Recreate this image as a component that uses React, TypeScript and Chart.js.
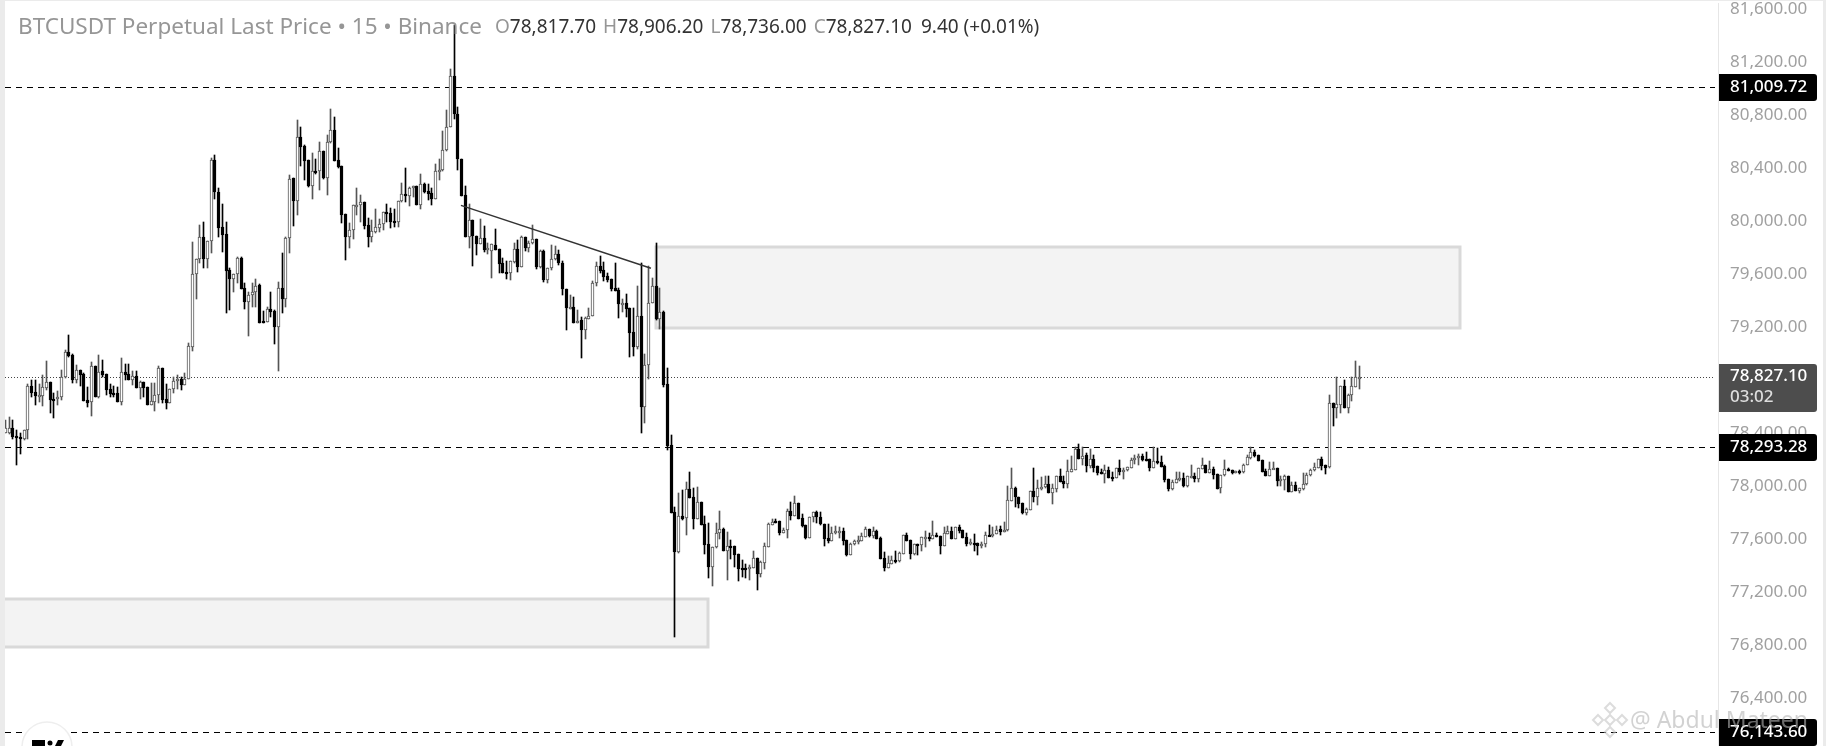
import React, { useEffect, useRef } from "react";
import { Chart, registerables } from "chart.js";

Chart.register(...registerables);

// Each row: [open, high, low, close]
const candlesBase: number[][] = [
  [78398,78499,78398,78436],[78398,78519,78393,78436],[78436,78499,78358,78373],[78378,78424,78159,78366],[78371,78403,78242,78366],
  [78356,78424,78348,78424],[78424,78771,78353,78755],[78755,78801,78675,78705],[78708,78801,78612,78683],[78683,78768,78637,78688],
  [78683,78836,78605,78745],[78738,78944,78725,78786],[78786,78786,78554,78652],[78657,78700,78517,78652],[78655,78718,78612,78670],
  [78670,78876,78650,78826],[78821,79027,78818,79010],[79010,79140,78977,78982],[78989,78997,78781,78801],[78803,78914,78781,78874],
  [78874,78876,78755,78838],[78849,78856,78645,78645],[78650,78745,78600,78627],[78632,78937,78529,78906],[78906,78906,78675,78675],
  [78675,78989,78667,78864],[78866,78952,78826,78836],[78846,78846,78688,78725],[78730,78771,78675,78695],[78703,78755,78675,78698],
  [78700,78750,78637,78637],[78637,78967,78610,78859],[78861,78921,78801,78841],[78846,78921,78801,78801],[78803,78866,78763,78828],
  [78828,78871,78743,78743],[78743,78796,78657,78786],[78788,78788,78672,78743],[78745,78750,78615,78615],[78615,78776,78615,78640],
  [78637,78781,78569,78685],[78685,78906,78625,78891],[78891,78891,78625,78652],[78655,78768,78582,78630],[78630,78730,78630,78730],
  [78730,78826,78700,78796],[78798,78836,78730,78806],[78806,78826,78725,78766],[78766,78851,78763,78811],[78811,79077,78806,79057],
];

const candlesFirstPeaks: number[][] = [
  [79053,79843,79023,79601],[79601,79712,79413,79712],[79712,79971,79682,79880],[79880,79994,79649,79717],[79717,79848,79644,79848],
  [79848,80474,79762,80461],[80461,80499,80170,80217],[80217,80248,79883,79951],[79956,80129,79770,79898],[79900,79994,79304,79626],
  [79631,79646,79329,79566],[79566,79599,79468,79599],[79599,79727,79531,79719],[79719,79732,79490,79490],[79493,79531,79337,79392],
  [79392,79468,79136,79440],[79440,79531,79350,79463],[79463,79563,79355,79511],[79516,79523,79234,79234],[79244,79319,79234,79234],
  [79242,79352,79242,79335],[79335,79465,79274,79317],[79322,79329,79073,79204],[79204,79541,78872,79493],[79493,79757,79309,79415],
  [79415,79878,79350,79870],[79870,80351,79757,80320],[80323,80323,79963,80154],[80154,80763,80046,80632],[80632,80708,80416,80562],
  [80567,80574,80310,80456],[80459,80459,80255,80265],[80268,80512,80170,80376],[80376,80466,80356,80371],[80376,80600,80235,80527],
  [80527,80527,80320,80325],[80328,80652,80197,80595],[80595,80844,80587,80688],[80688,80783,80454,80454],[80459,80549,80398,80411],
  [80416,80416,79983,80046],[80051,80051,79707,79883],[79883,79983,79800,79931],[79931,80119,79865,80119],[80116,80248,80046,80119],
  [80119,80197,79996,80144],[80144,80144,79938,79963],[79968,80021,79807,79878],[79878,80009,79845,79923],[79918,80092,79913,79956],
  [79951,80016,79921,79976],
];

const candlesTopAndSlide: number[][] = [
  [79976,80069,79933,80069],[80069,80130,79991,80064],[80062,80097,79946,79996],[80001,80089,79954,79996],[79996,80150,79954,80150],
  [80150,80286,80147,80205],[80205,80401,80147,80200],[80193,80255,80117,80250],[80248,80268,80185,80263],[80263,80265,80120,80122],
  [80125,80356,80094,80278],[80281,80286,80215,80223],[80225,80281,80160,80208],[80213,80248,80120,80170],[80170,80432,80167,80376],
  [80381,80467,80311,80386],[80384,80680,80381,80535],[80535,80839,80532,80708],[80708,81146,80708,81095],[81095,81480,80771,80806],
  [80806,80859,80386,80467],[80469,80469,80193,80193],[80198,80265,79883,79883],[79883,80130,79795,80009],[80009,80009,79662,79888],
  [79888,79888,79745,79830],[79830,80016,79828,79871],[79871,79964,79765,79783],[79788,79833,79752,79795],[79778,79828,79569,79825],
  [79820,79939,79783,79783],[79788,79788,79612,79677],[79682,79720,79607,79607],[79617,79702,79561,79607],[79607,79702,79556,79700],
  [79695,79833,79682,79788],[79788,79858,79619,79657],[79657,79888,79657,79878],[79878,79878,79778,79800],[79800,79853,79765,79833],
  [79833,79969,79828,79863],[79866,79866,79637,79657],[79654,79783,79644,79773],[79773,79783,79544,79556],[79556,79644,79531,79644],
  [79644,79820,79632,79712],[79712,79813,79707,79750],[79750,79783,79669,79682],
];

const candlesCrash: number[][] = [
  [79681,79699,79445,79485],[79485,79485,79178,79347],[79344,79442,79334,79352],[79349,79425,79233,79233],[79233,79329,79233,79248],
  [79251,79279,78967,79181],[79181,79274,79110,79266],[79264,79347,79264,79286],[79286,79545,79284,79530],[79530,79691,79513,79658],
  [79658,79736,79611,79623],[79628,79694,79548,79581],[79586,79611,79543,79558],[79561,79561,79473,79488],[79493,79681,79473,79475],
  [79478,79493,79271,79377],[79374,79410,79314,79382],[79380,79447,79279,79339],[79342,79342,78977,79158],[79161,79342,78982,79053],
  [79053,79510,79035,79281],[79281,79681,78404,78600],[78600,78997,78479,78912],[78912,79664,78811,79380],[79380,79568,79380,79510],
  [79510,79837,79254,79264],[79264,79493,79186,79312],[79314,79324,78751,78763],[78768,78889,78273,78303],[78308,78386,77800,77800],
  [77803,77841,76864,77506],[77506,77946,77493,77773],[77773,77971,77745,77755],[77757,78034,77632,77976],[77979,78104,77913,77913],
];

const candlesBottoming: number[][] = [
  [77916,77984,77677,77755],[77755,77991,77755,77878],[77878,77878,77709,77709],[77714,77775,77488,77559],[77564,77719,77310,77393],
  [77393,77538,77247,77538],[77538,77725,77531,77644],[77644,77813,77599,77674],[77677,77682,77513,77513],[77513,77657,77292,77546],
  [77548,77594,77450,77543],[77548,77548,77388,77483],[77486,77488,77287,77378],[77383,77443,77317,77378],[77383,77413,77305,77378],
  [77378,77405,77292,77388],[77383,77511,77380,77455],[77455,77455,77217,77340],[77340,77435,77317,77428],[77423,77569,77375,77548],
  [77543,77719,77538,77714],[77709,77750,77707,77730],[77735,77750,77719,77727],[77735,77735,77631,77649],[77649,77687,77649,77667],
  [77667,77830,77609,77810],[77813,77878,77745,77777],[77777,77926,77775,77870],[77873,77873,77750,77755],[77760,77787,77694,77702],
  [77707,77707,77601,77609],[77609,77765,77606,77765],[77765,77805,77732,77805],[77805,77813,77725,77765],[77767,77802,77707,77712],
  [77714,77714,77551,77601],[77606,77714,77569,77586],[77589,77689,77586,77644],[77644,77702,77639,77662],[77657,77694,77606,77664],
  [77662,77687,77556,77589],[77594,77594,77473,77481],[77483,77569,77481,77561],[77561,77594,77556,77586],[77586,77624,77564,77591],
  [77589,77644,77589,77621],[77619,77694,77614,77674],[77674,77674,77614,77624],[77624,77694,77606,77662],[77662,77669,77599,77604],
  [77609,77614,77448,77453],[77455,77506,77362,77385],[77385,77473,77380,77418],[77415,77473,77413,77440],[77440,77511,77418,77435],
  [77438,77506,77430,77493],[77488,77631,77488,77629],[77629,77644,77586,77589],[77591,77591,77450,77488],[77488,77561,77481,77561],
  [77561,77561,77481,77553],[77553,77619,77508,77614],[77611,77659,77543,77616],[77614,77644,77589,77604],[77604,77735,77604,77629],
  [77629,77649,77619,77619],[77621,77621,77488,77551],[77551,77689,77551,77644],[77642,77699,77639,77662],[77662,77694,77601,77601],
  [77601,77694,77599,77689],[77689,77707,77649,77662],[77667,77669,77609,77609],[77614,77649,77551,77566],[77574,77599,77556,77579],
  [77574,77639,77508,77569],[77571,77571,77483,77551],[77556,77581,77531,77564],[77561,77652,77543,77629],[77631,77704,77626,77626],
  [77629,77689,77619,77639],[77637,77702,77637,77672],[77674,77699,77631,77654],[77654,77732,77652,77672],
];

const candlesRecovery: number[][] = [
  [77669,78001,77664,77893],[77891,78135,77891,77984],[77984,77991,77840,77916],[77916,77921,77833,77868],[77870,77870,77787,77800],
  [77800,77833,77782,77825],[77820,77963,77820,77963],[77963,78135,77883,77921],[77921,78047,77858,77984],[77984,78072,77971,77996],
  [77991,78077,77989,78014],[78014,78077,77951,77951],[77951,78017,77868,77984],[77981,78077,77959,78077],[78077,78127,78034,78034],
  [78039,78077,77984,78019],[78019,78198,77989,78112],[78110,78228,78107,78127],[78125,78293,78125,78281],[78281,78318,78208,78208],
  [78208,78293,78160,78230],[78235,78248,78110,78152],[78152,78278,78140,78205],[78205,78235,78110,78137],[78150,78150,78084,78102],
  [78105,78127,78089,78092],[78094,78157,78027,78122],[78122,78142,78064,78064],[78069,78110,78037,78062],[78064,78135,78059,78135],
  [78135,78198,78084,78107],[78115,78135,78057,78122],[78120,78147,78117,78142],[78140,78210,78137,78198],[78195,78235,78167,78213],
  [78210,78243,78160,78228],[78228,78243,78193,78195],[78205,78260,78193,78195],[78205,78205,78115,78137],[78140,78298,78137,78188],
  [78190,78286,78167,78175],[78182,78228,78147,78147],[78152,78160,78034,78049],[78052,78052,77961,77981],[77981,78047,77971,78029],
  [78027,78110,78022,78052],[78054,78110,78042,78062],[78062,78097,77991,77999],[78002,78077,77991,78077],[78074,78160,78059,78079],
  [78077,78097,78034,78052],[78052,78135,78034,78135],[78132,78213,78132,78157],[78157,78160,78097,78102],[78102,78188,78102,78127],
  [78127,78147,78057,78087],[78092,78092,77981,77981],[77984,78084,77951,78084],[78082,78198,78079,78127],[78127,78135,78117,78122],
  [78120,78122,78092,78102],[78105,78112,78102,78112],[78112,78120,78094,78105],[78105,78167,78102,78160],[78157,78235,78157,78218],
  [78215,78293,78208,78258],[78258,78273,78223,78230],[78233,78238,78193,78193],[78198,78198,78110,78110],[78115,78127,78077,78079],
  [78079,78185,78077,78127],[78130,78185,78130,78135],[78135,78135,78002,78042],[78044,78077,78002,78054],[78047,78084,77971,78074],
  [78077,78077,77959,77959],[77959,78034,77956,78009],[78009,78034,77966,77966],[77966,77984,77946,77984],[77979,78102,77971,78017],
  [78014,78097,78011,78084],[78082,78127,78079,78122],[78120,78172,78117,78142],[78140,78205,78135,78205],[78205,78220,78122,78155],
  [78160,78160,78092,78137],[78142,78688,78137,78625],[78625,78625,78454,78590],[78590,78821,78512,78618],[78615,78753,78555,78753],
  [78756,78801,78590,78590],[78590,78696,78552,78688],[78685,78821,78645,78753],[78751,78945,78751,78824],[78817.7,78906.2,78736,78827.1],
];

const tickValues = [81600, 81200, 80800, 80400, 80000, 79600, 79200, 78800, 78400, 78000, 77600, 77200, 76800, 76400];
const levelPrices = [81009.72, 78293.28, 76143.6];
const lastPrice = 78827.1;
const countdown = "03:02";
const zoneStart = [173.9, -4];
const zoneEnd = [389, 187.8];
const zoneTop = [79808, 77152];
const zoneBottom = [79190, 76790];
const trendStart = [121.8, 80119];
const trendEnd = [172.6, 79644];
const titleText = "BTCUSDT Perpetual Last Price • 15 • Binance";
const ohlcLabels = ["O", "H", "L", "C"];
const ohlcValues = ["78,817.70", "78,906.20", "78,736.00", "78,827.10"];
const changeText = "9.40 (+0.01%)";
const watermark = "@ Abdul Mateen";

const FONT = '"Noto Sans", sans-serif';
const X_MIN = -0.1;
const X_MAX = 457.9;
const Y_MIN = 76039.3;
const Y_MAX = 81646;
const UP = "#555555";
const DOWN = "#000000";

const candles = [
  ...candlesBase,
  ...candlesFirstPeaks,
  ...candlesTopAndSlide,
  ...candlesCrash,
  ...candlesBottoming,
  ...candlesRecovery,
];

const fmt = (v: number) =>
  v.toLocaleString("en-US", { minimumFractionDigits: 2, maximumFractionDigits: 2 });

function roundedTag(ctx: CanvasRenderingContext2D, x: number, y: number, w: number, h: number, color: string) {
  ctx.fillStyle = color;
  ctx.beginPath();
  ctx.roundRect(x, y, w, h, [0, 3, 3, 0]);
  ctx.fill();
}

const snapPlugin = {
  id: "snap",
  afterDatasetsUpdate(chart: any) {
    chart.data.datasets.forEach((ds: any, i: number) => {
      const meta = chart.getDatasetMeta(i);
      if (ds.snapKind === "wick" || ds.snapKind === "body") {
        meta.data.forEach((el: any) => {
          el.x = Math.floor(el.x) + 0.5;
          const top = Math.round(Math.min(el.y, el.base));
          let bottom = Math.round(Math.max(el.y, el.base));
          const minH = ds.snapKind === "body" ? 2 : 1;
          if (bottom - top < minH) bottom = top + minH;
          el.y = top;
          el.base = bottom;
        });
      } else if (ds.snapKind === "level") {
        meta.data.forEach((el: any) => {
          el.y = Math.round(el.y) + 0.5;
        });
      }
    });
  },
};

const zonesPlugin = {
  id: "zones",
  beforeDatasetsDraw(chart: any) {
    const { ctx, scales, chartArea } = chart;
    ctx.save();
    ctx.beginPath();
    ctx.rect(chartArea.left, chartArea.top, chartArea.right - chartArea.left, chartArea.bottom - chartArea.top);
    ctx.clip();
    zoneStart.forEach((_, i) => {
      const x0 = Math.round(scales.x.getPixelForValue(zoneStart[i]));
      const x1 = Math.round(scales.x.getPixelForValue(zoneEnd[i]));
      const y0 = Math.round(scales.y.getPixelForValue(zoneTop[i]));
      const y1 = Math.round(scales.y.getPixelForValue(zoneBottom[i]));
      ctx.fillStyle = "#f3f3f3";
      ctx.fillRect(x0, y0, x1 - x0, y1 - y0);
      ctx.strokeStyle = "#d9d9d9";
      ctx.lineWidth = 3;
      ctx.strokeRect(x0, y0, x1 - x0, y1 - y0);
    });
    ctx.restore();
  },
};

const overlayPlugin = {
  id: "overlay",
  afterDraw(chart: any) {
    const { ctx, scales, width, height } = chart;
    ctx.save();
    // frame bands
    ctx.fillStyle = "#ebebeb";
    ctx.fillRect(0, 0, 5, height);
    ctx.fillRect(width - 3, 0, 3, height);
    ctx.fillRect(0, 0, width, 1);

    // legend line
    ctx.textBaseline = "middle";
    ctx.textAlign = "left";
    ctx.font = `22.5px ${FONT}`;
    ctx.fillStyle = "#969696";
    ctx.fillText(titleText, 18, 28);
    ctx.font = `19px ${FONT}`;
    let x = 495;
    ohlcLabels.forEach((lab, i) => {
      ctx.fillStyle = "#969696";
      ctx.fillText(lab, x, 27.5);
      x += ctx.measureText(lab).width;
      ctx.fillStyle = "#333333";
      ctx.fillText(ohlcValues[i], x, 27.5);
      x += ctx.measureText(ohlcValues[i]).width + 7;
    });
    ctx.fillStyle = "#333333";
    ctx.fillText(changeText, x + 2, 27.5);

    // price tags
    const tagX = 1719;
    const tagW = 98;
    const tagFont = `500 17px ${FONT}`;
    const lastY = scales.y.getPixelForValue(lastPrice);
    roundedTag(ctx, tagX, Math.round(lastY - 13), tagW, 48, "#4d4d4d");
    ctx.font = tagFont;
    ctx.fillStyle = "#ffffff";
    ctx.fillText(fmt(lastPrice), 1730, lastY);
    ctx.fillStyle = "#dddddd";
    ctx.fillText(countdown, 1730, lastY + 21);
    levelPrices.forEach((p) => {
      const y = scales.y.getPixelForValue(p);
      roundedTag(ctx, tagX, Math.round(y - 13.5), tagW, 27, "#000000");
      ctx.fillStyle = "#ffffff";
      ctx.font = tagFont;
      ctx.fillText(fmt(p), 1730, y);
    });

    // TV badge
    ctx.beginPath();
    ctx.arc(47, 747, 25, 0, Math.PI * 2);
    ctx.fillStyle = "#ffffff";
    ctx.fill();
    ctx.strokeStyle = "#eeeeee";
    ctx.lineWidth = 1.5;
    ctx.stroke();
    ctx.fillStyle = "#000000";
    ctx.fillRect(32, 740, 13, 6);
    ctx.beginPath();
    ctx.arc(50, 743, 2.5, 0, Math.PI * 2);
    ctx.fill();
    ctx.beginPath();
    ctx.moveTo(58, 740);
    ctx.lineTo(64, 740);
    ctx.lineTo(61, 746);
    ctx.lineTo(55, 746);
    ctx.closePath();
    ctx.fill();

    // watermark
    ctx.globalAlpha = 0.6;
    ctx.fillStyle = "#b4b4b4";
    ctx.font = `23px ${FONT}`;
    ctx.fillText(watermark, 1630, 721);
    ctx.strokeStyle = "#c4c4c4";
    ctx.lineWidth = 2;
    [[1610, 708, 5], [1610, 732, 5], [1598, 720, 5], [1622, 720, 5], [1610, 720, 5]].forEach(([cx, cy, r]) => {
      ctx.beginPath();
      ctx.moveTo(cx, cy - r);
      ctx.lineTo(cx + r, cy);
      ctx.lineTo(cx, cy + r);
      ctx.lineTo(cx - r, cy);
      ctx.closePath();
      ctx.stroke();
    });
    ctx.restore();
  },
};

export default function App() {
  const ref = useRef<HTMLCanvasElement | null>(null);

  useEffect(() => {
    if (!ref.current) return;
    const levelSets = levelPrices.map((p) => ({
      type: "line",
      order: 6,
      snapKind: "level",
      data: [{ x: X_MIN, y: p }, { x: 457.1, y: p }],
      borderColor: "#000000",
      borderWidth: 1,
      borderDash: [6, 5],
      pointRadius: 0,
      fill: false,
    }));
    const chart = new Chart(ref.current, {
      type: "bar",
      data: {
        datasets: [
          ...levelSets,
          {
            type: "line",
            order: 6,
            snapKind: "level",
            data: [{ x: X_MIN, y: lastPrice }, { x: 457.1, y: lastPrice }],
            borderColor: "#444444",
            borderWidth: 1,
            borderDash: [1, 2],
            pointRadius: 0,
            fill: false,
          },
          {
            type: "bar",
            order: 4,
            snapKind: "wick",
            grouped: false,
            barThickness: 1,
            data: candles.map((c, i) => ({ x: i, y: [c[2], c[1]] })),
            backgroundColor: candles.map((c) => (c[3] >= c[0] ? UP : DOWN)),
            borderWidth: 0,
          },
          {
            type: "bar",
            order: 3,
            snapKind: "body",
            grouped: false,
            barThickness: 3,
            data: candles.map((c, i) => ({ x: i, y: [Math.min(c[0], c[3]), Math.max(c[0], c[3])] })),
            backgroundColor: candles.map((c) => (c[3] >= c[0] ? "#ffffff" : DOWN)),
            borderColor: candles.map((c) => (c[3] >= c[0] ? UP : DOWN)),
            borderWidth: 1,
            borderSkipped: false,
          },
          {
            type: "line",
            order: 1,
            data: [{ x: trendStart[0], y: trendStart[1] }, { x: trendEnd[0], y: trendEnd[1] }],
            borderColor: "#333333",
            borderWidth: 1.5,
            pointRadius: 0,
            fill: false,
          },
        ] as any,
      },
      options: {
        animation: false,
        responsive: false,
        devicePixelRatio: 1,
        layout: { padding: { left: 5, top: 3, right: 0, bottom: 0 } },
        plugins: { legend: { display: false }, tooltip: { enabled: false } },
        events: [],
        scales: {
          x: {
            type: "linear",
            display: false,
            offset: false,
            min: X_MIN,
            max: X_MAX,
            grid: { display: false },
          },
          y: {
            type: "linear",
            position: "right",
            min: Y_MIN,
            max: Y_MAX,
            grid: { display: false, drawTicks: false },
            border: { display: true, color: "#e6e6e6", width: 1 },
            ticks: {
              color: "#a0a0a0",
              padding: 12,
              autoSkip: false,
              font: { family: '"Noto Sans", sans-serif', size: 17 },
              callback: (v: any) => fmt(Number(v)),
            },
            afterBuildTicks(axis: any) {
              axis.ticks = tickValues.map((value) => ({ value }));
            },
            afterFit(axis: any) {
              axis.width = 108;
              axis.paddingTop = 0;
              axis.paddingBottom = 0;
            },
          },
        },
      } as any,
      plugins: [snapPlugin, zonesPlugin, overlayPlugin],
    } as any);
    return () => chart.destroy();
  }, []);

  return (
    <div style={{ position: "fixed", left: 0, top: 0, width: 1826, height: 746, background: "#ffffff" }}>
      <canvas ref={ref} width={1826} height={746} style={{ display: "block" }} />
    </div>
  );
}
